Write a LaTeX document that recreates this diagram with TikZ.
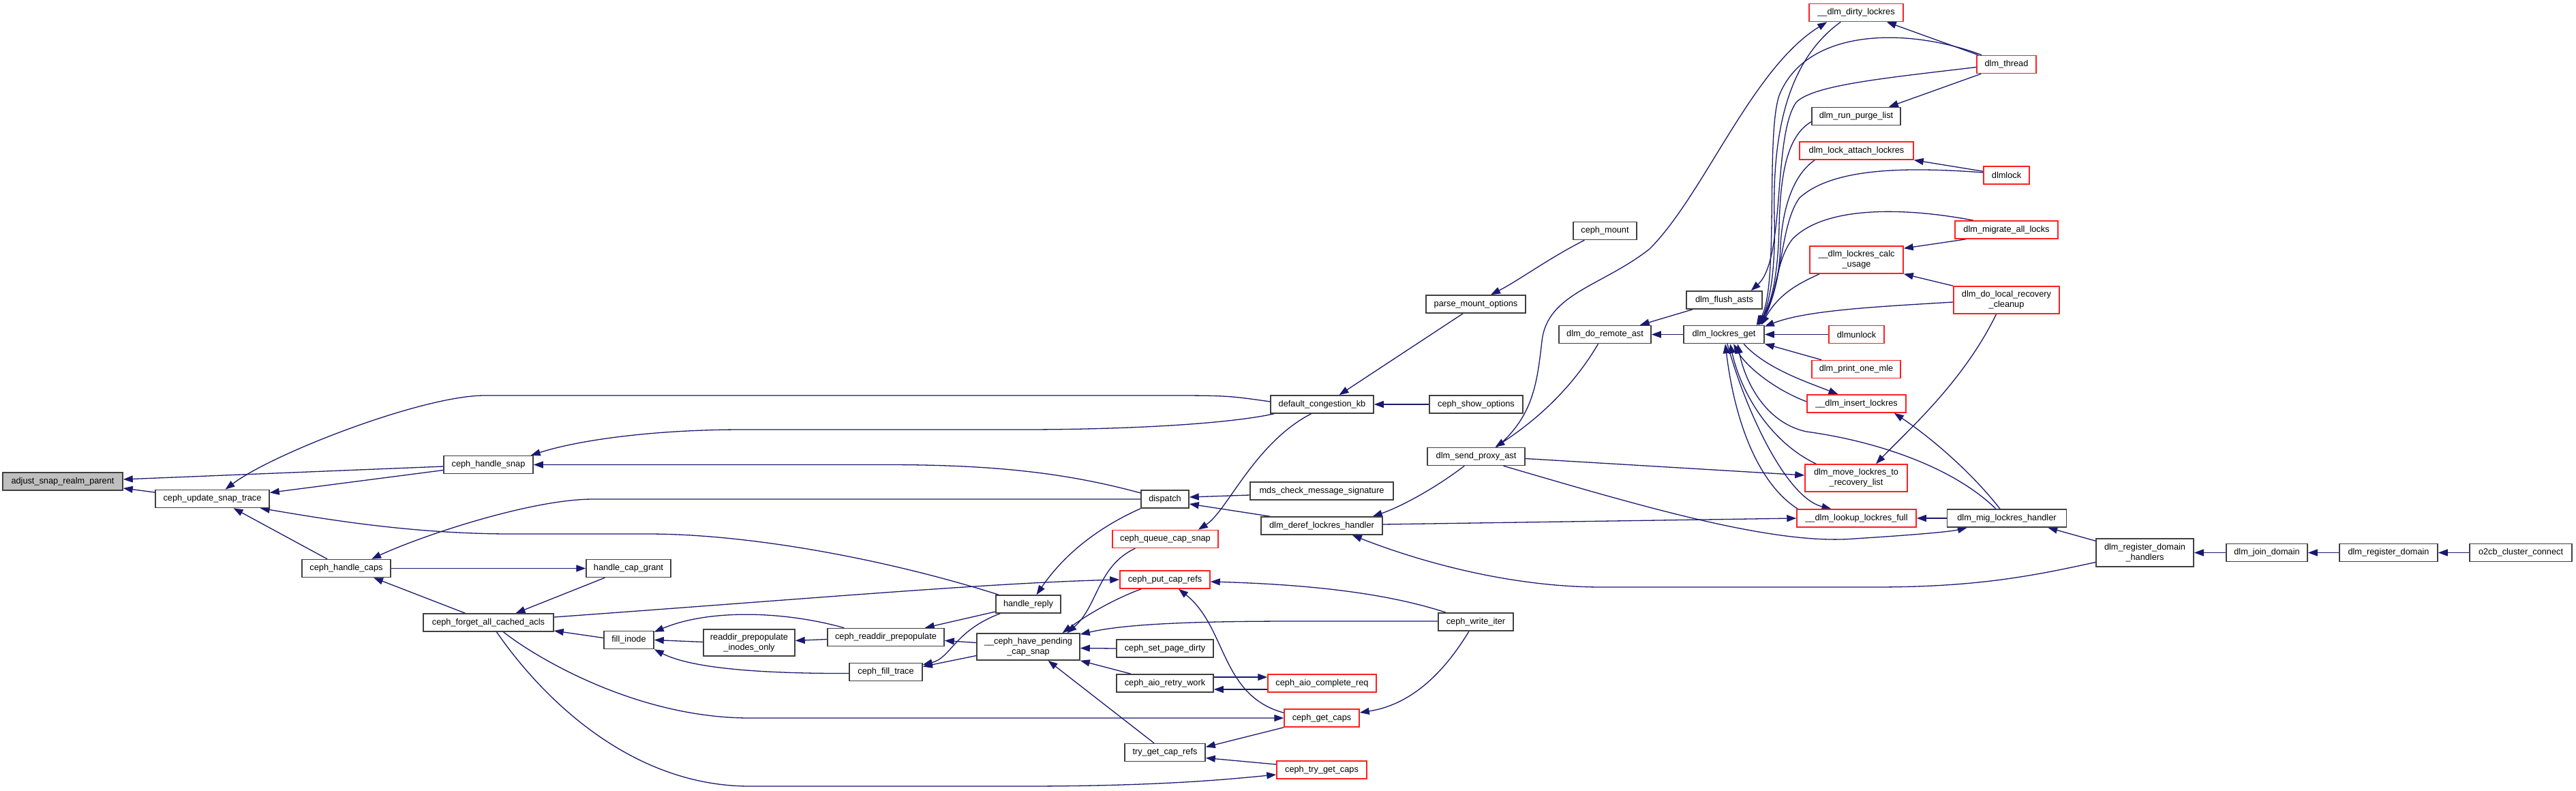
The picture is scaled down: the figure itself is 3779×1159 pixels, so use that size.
\documentclass[tikz,border=0pt]{standalone}
\usepackage{fontspec}
\setmainfont{Liberation Sans}
\usetikzlibrary{arrows.meta,calc}
\definecolor{edgec}{HTML}{191970}
\definecolor{boxc}{HTML}{404040}
\definecolor{redc}{HTML}{FF2020}
\definecolor{grayf}{HTML}{BFBFBF}
\pgfdeclarelayer{bg}
\pgfsetlayers{bg,main}
\begin{document}
\begin{tikzpicture}[x=1pt,y=-1pt,
  fn/.style={draw=boxc,line width=1.5pt,fill=white,inner sep=0pt,minimum height=26pt,font=\fontsize{12.75}{15}\selectfont,align=center},
  rfn/.style={fn,draw=redc},
  arr/.style={draw=edgec,line width=1.3pt,-{Triangle[length=14pt,width=10pt]}}]
\useasboundingbox (0,0) rectangle (3779,1159);
% nodes
\node[fn,fill=grayf,minimum width=176pt] (adj) at (92,706) {adjust\_snap\_realm\_parent};
\node[fn,minimum width=167pt] (upd) at (311.5,731.5) {ceph\_update\_snap\_trace};
\node[fn,minimum width=130pt] (hcaps) at (508,833.5) {ceph\_handle\_caps};
\node[fn,minimum width=131pt] (hsnap) at (716.5,681.5) {ceph\_handle\_snap};
\node[fn,minimum width=191pt] (forget) at (716.5,913) {ceph\_forget\_all\_cached\_acls};
\node[fn,minimum width=124pt] (grant) at (922,833.5) {handle\_cap\_grant};
\node[fn,minimum width=73pt] (fill) at (922.5,938.5) {fill\_inode};
\node[fn,minimum width=134pt,minimum height=39pt] (rpio) at (1099,942.5) {readdir\_prepopulate\\\_inodes\_only};
\node[fn,minimum width=171pt] (crp) at (1299.5,934.5) {ceph\_readdir\_prepopulate};
\node[fn,minimum width=107pt] (cft) at (1299.5,985.5) {ceph\_fill\_trace};
\node[fn,minimum width=95pt] (hreply) at (1508.5,886) {handle\_reply};
\node[fn,minimum width=151pt,minimum height=39pt] (pend) at (1508.5,948.5) {\_\_ceph\_have\_pending\\\_cap\_snap};
\node[fn,minimum width=70pt] (dispatch) at (1709,732) {dispatch};
\node[fn,minimum width=210pt] (mds) at (1939,720) {mds\_check\_message\_signature};
\node[fn,minimum width=178pt] (deref) at (1939,771) {dlm\_deref\_lockres\_handler};
\node[rfn,minimum width=155pt] (queue) at (1709.5,790.5) {ceph\_queue\_cap\_snap};
\node[rfn,minimum width=132pt] (put) at (1709,850) {ceph\_put\_cap\_refs};
\node[fn,minimum width=142pt] (spd) at (1709,951) {ceph\_set\_page\_dirty};
\node[fn,minimum width=142pt] (retry) at (1709,1002) {ceph\_aio\_retry\_work};
\node[rfn,minimum width=159pt] (acr) at (1939.5,1002) {ceph\_aio\_complete\_req};
\node[rfn,minimum width=110pt] (gcaps) at (1939,1053) {ceph\_get\_caps};
\node[fn,minimum width=118pt] (tgcr) at (1709,1103.5) {try\_get\_cap\_refs};
\node[rfn,minimum width=132pt] (tgc) at (1939,1129) {ceph\_try\_get\_caps};
\node[fn,minimum width=110pt] (cwi) at (2165,912) {ceph\_write\_iter};
\node[fn,minimum width=151pt] (dck) at (1939.5,593) {default\_congestion\_kb};
\node[fn,minimum width=146pt] (pmo) at (2165,446) {parse\_mount\_options};
\node[fn,minimum width=137pt] (cso) at (2165.5,593) {ceph\_show\_options};
\node[fn,minimum width=93pt] (cmount) at (2354.5,338.5) {ceph\_mount};
\node[fn,minimum width=143pt] (dspa) at (2165.5,669.5) {dlm\_send\_proxy\_ast};
\node[fn,minimum width=135pt] (dra) at (2354.5,490.5) {dlm\_do\_remote\_ast};
\node[fn,minimum width=111pt] (dfa) at (2529.5,440) {dlm\_flush\_asts};
\node[fn,minimum width=118pt] (dlg) at (2529,490.5) {dlm\_lockres\_get};
\node[rfn,minimum width=138pt] (dirty) at (2723,18.5) {\_\_dlm\_dirty\_lockres};
\node[fn,minimum width=130pt] (purge) at (2723,170.5) {dlm\_run\_purge\_list};
\node[rfn,minimum width=167pt] (attach) at (2723.5,221) {dlm\_lock\_attach\_lockres};
\node[rfn,minimum width=137pt,minimum height=40pt] (calc) at (2723.5,381) {\_\_dlm\_lockres\_calc\\\_usage};
\node[rfn,minimum width=81pt] (unlock) at (2723.5,490.5) {dlmunlock};
\node[rfn,minimum width=130pt] (pom) at (2723,541.5) {dlm\_print\_one\_mle};
\node[rfn,minimum width=145pt] (insert) at (2723.5,592) {\_\_dlm\_insert\_lockres};
\node[rfn,minimum width=150pt,minimum height=40pt] (move) at (2723,701) {dlm\_move\_lockres\_to\\\_recovery\_list};
\node[rfn,minimum width=175pt] (lookup) at (2723.5,760) {\_\_dlm\_lookup\_lockres\_full};
\node[rfn,minimum width=87pt] (thread) at (2943.5,94.5) {dlm\_thread};
\node[rfn,minimum width=67pt] (dlmlock) at (2943.5,257) {dlmlock};
\node[rfn,minimum width=151pt] (migrate) at (2943.5,337) {dlm\_migrate\_all\_locks};
\node[rfn,minimum width=155pt,minimum height=40pt] (dlrc) at (2943.5,440) {dlm\_do\_local\_recovery\\\_cleanup};
\node[fn,minimum width=175pt] (mig) at (2944,760) {dlm\_mig\_lockres\_handler};
\node[fn,minimum width=143pt,minimum height=41pt] (rdh) at (3146.5,810.5) {dlm\_register\_domain\\\_handlers};
\node[fn,minimum width=119pt] (join) at (3325.5,810.5) {dlm\_join\_domain};
\node[fn,minimum width=144pt] (rd) at (3504,810.5) {dlm\_register\_domain};
\node[fn,minimum width=150pt] (o2cb) at (3698,810.5) {o2cb\_cluster\_connect};
\begin{pgfonlayer}{bg}
\fill[white] (0,0) rectangle (3779,1159);
% ceph part
\draw[arr] ($(hsnap.west)+(0,2.5)$) -- ($(adj.east)+(0,-3)$);
\draw[arr] ($(hsnap.west)+(0,8)$) -- ($(upd.east)+(0,-9)$);
\draw[arr] ($(upd.west)+(0,-9.5)$) -- ($(adj.east)+(0,10)$);
\draw[arr] ($(dck.west)+(0,-4)$) .. controls (1800,580) .. (1700,580) -- (711,580) .. controls (620,580) and (400,665) .. ($(upd.north)+(19,0)$);
\draw[arr] ($(dck.south west)+(6,0)$) .. controls (1800,622) and (1650,630) .. (1500,630) -- (1090,630) .. controls (960,630) and (850,645) .. ($(hsnap.north east)+(-4,0)$);
\draw[arr] ($(dispatch.west)+(0,-9)$) .. controls (1560,692) and (1450,681.5) .. (1300,681.5) -- (hsnap.east);
\draw[arr] (dispatch.west) -- (870,732) .. controls (780,732) and (620,785) .. ($(hcaps.north)+(37,0)$);
\draw[arr] ($(hreply.north west)+(5,0)$) .. controls (1300,820) and (1100,783) .. (950,783) -- (750,783) .. controls (600,783) and (470,760) .. ($(upd.south east)+(-14,0)$);
\draw[arr] ($(hcaps.north)+(-28,0)$) -- ($(upd.south)+(31,0)$);
\draw[arr] (hcaps.east) -- (grant.west);
\draw[arr] ($(grant.south west)+(28,0)$) -- ($(forget.north)+(40,0)$);
\draw[arr] ($(forget.north)+(-34,0)$) -- ($(hcaps.south)+(40,0)$);
\draw[arr] ($(forget.east)+(0,-8)$) .. controls (1200,877) and (1450,855) .. (put.west);
\draw[arr] ($(fill.west)+(0,-3)$) -- ($(forget.east)+(0,12)$);
\draw[arr] ($(forget.south)+(22,0)$) .. controls (780,960) and (930,1053) .. (1100,1053) -- (gcaps.west);
\draw[arr] ($(forget.south)+(12,0)$) .. controls (800,1030) and (930,1153) .. (1100,1153) -- (1500,1153) .. controls (1700,1153) and (1800,1143) .. ($(tgc.west)+(0,7)$);
\draw[arr] ($(crp.north west)+(25,0)$) .. controls (1150,896) and (1040,893) .. ($(fill.north east)+(0,2)$);
\draw[arr] ($(rpio.west)+(0,-1)$) -- (fill.east);
\draw[arr] ($(cft.west)+(0,2)$) .. controls (1100,988) and (1010,978) .. (fill.south east);
\draw[arr] ($(crp.west)+(0,3)$) -- ($(rpio.east)+(0,-3)$);
\draw[arr] ($(pend.west)+(0,-6)$) -- ($(crp.east)+(0,5)$);
\draw[arr] ($(pend.west)+(0,13)$) -- ($(cft.east)+(0,-8)$);
\draw[arr] ($(hreply.west)+(0,11)$) -- ($(crp.north east)+(-29,0)$);
\draw[arr] ($(hreply.south west)+(7,0)$) .. controls (1400,925) and (1395,965) .. ($(cft.north east)+(0,3)$);
\draw[arr] (dispatch.south west) .. controls (1630,765) and (1570,800) .. ($(hreply.north)+(12,0)$);
\draw[arr] ($(mds.west)+(0,6)$) -- ($(dispatch.east)+(0,-3)$);
\draw[arr] ($(deref.north west)+(14,0)$) -- ($(dispatch.east)+(0,7)$);
\draw[arr] ($(dspa.south west)+(55,0)$) .. controls (2100,720) and (2050,745) .. ($(deref.north east)+(-15,0)$);
\draw[arr] ($(deref.east)+(0,-2)$) -- (lookup.west);
\draw[arr] ($(rdh.west)+(0,14)$) .. controls (2980,845) and (2900,861) .. (2750,861) -- (2350,861) .. controls (2200,861) and (2060,815) .. ($(deref.south east)+(-45,0)$);
\draw[arr] ($(dck.south)+(-16,0)$) .. controls (1840,650) and (1800,750) .. ($(queue.north east)+(-30,0)$);
\draw[arr] ($(pmo.south west)+(55,0)$) -- ($(dck.north)+(25,0)$);
\draw[arr] (cso.west) -- (dck.east);
\draw[arr] ($(cmount.south west)+(17,0)$) .. controls (2270,380) and (2230,410) .. ($(pmo.north)+(22,0)$);
\draw[arr] ($(queue.south west)+(34,0)$) .. controls (1610,830) and (1610,890) .. ($(pend.north)+(57,0)$);
\draw[arr] ($(put.south west)+(32,0)$) .. controls (1630,880) and (1590,905) .. ($(pend.north)+(50,0)$);
\draw[arr] ($(cwi.west)+(0,-1)$) -- (1900,911) .. controls (1750,911) and (1650,915) .. ($(pend.north east)+(0,2)$);
\draw[arr] (spd.west) -- ($(pend.east)+(0,2)$);
\draw[arr] ($(retry.north west)+(22,0)$) -- (pend.south east);
\draw[arr] ($(tgcr.north)+(-16,0)$) -- ($(pend.south)+(29,0)$);
\draw[arr] ($(retry.east)+(0,-9)$) -- ($(acr.west)+(0,-9)$);
\draw[arr] ($(acr.west)+(0,9)$) -- ($(retry.east)+(0,9)$);
\draw[arr] ($(gcaps.north west)+(0,6)$) .. controls (1790,1020) and (1800,920) .. ($(put.south)+(20,0)$);
\draw[arr] ($(cwi.north west)+(12,0)$) .. controls (2050,875) and (1950,858) .. ($(put.east)+(0,3)$);
\draw[arr] ($(cwi.south)+(-10,0)$) .. controls (2110,1000) and (2060,1035) .. ($(gcaps.east)+(0,-8)$);
\draw[arr] (gcaps.south west) -- ($(tgcr.east)+(0,-8)$);
\draw[arr] ($(tgc.west)+(0,-8)$) -- ($(tgcr.east)+(0,8)$);
% dlm part
\draw[arr] ($(dspa.north)+(30,0)$) .. controls (2250,610) and (2255,560) .. (2262,500) .. controls (2270,430) and (2350,420) .. (2420,365) .. controls (2500,285) and (2570,100) .. ($(dirty.south west)+(27,0)$);
\draw[arr] ($(dra.south)+(-10,0)$) .. controls (2300,580) and (2240,625) .. ($(dspa.north)+(28,0)$);
\draw[arr] ($(dspa.east)+(0,3)$) -- ($(move.west)+(0,-4)$);
\draw[arr] ($(dspa.south)+(40,0)$) .. controls (2400,740) and (2600,800) .. (2720,790) .. controls (2800,785) and (2860,780) .. ($(mig.south west)+(30,0)$);
\draw[arr] ($(dfa.south west)+(10,0)$) -- ($(dra.north east)+(-17,0)$);
\draw[arr] (dlg.west) -- (dra.east);
\draw[arr] ($(thread.north west)+(3,0)$) -- ($(dirty.south east)+(-25,0)$);
\draw[arr] ($(thread.north west)+(8,0)$) .. controls (2800,40) and (2650,40) .. (2610,140) .. controls (2590,200) and (2610,420) .. ($(dlg.north east)+(-12,0)$);
\draw[arr] ($(thread.west)+(0,4)$) .. controls (2760,115) and (2660,125) .. (2635,150) .. controls (2600,200) and (2620,380) .. ($(dfa.north east)+(-17,0)$);
\draw[arr] ($(thread.south west)+(7,0)$) -- ($(purge.north east)+(-18,0)$);
\draw[arr] ($(dirty.south west)+(47,0)$) .. controls (2620,90) and (2600,200) .. (2603,320) .. controls (2605,400) and (2595,445) .. ($(dlg.north east)+(-8,0)$);
\draw[arr] ($(purge.west)+(0,8)$) .. controls (2620,200) and (2612,260) .. (2610,330) .. controls (2608,420) and (2595,450) .. ($(dlg.north east)+(-10,0)$);
\draw[arr] ($(attach.south west)+(23,0)$) .. controls (2625,260) and (2614,320) .. (2612,360) .. controls (2610,420) and (2595,450) .. ($(dlg.north east)+(-10,0)$);
\draw[arr] ($(dlmlock.west)+(0,-4)$) .. controls (2800,245) and (2690,245) .. (2640,290) .. controls (2610,330) and (2615,430) .. ($(dlg.north east)+(-12,0)$);
\draw[arr] ($(migrate.north west)+(28,0)$) .. controls (2800,305) and (2680,300) .. (2630,350) .. controls (2605,380) and (2605,440) .. ($(dlg.north east)+(-8,0)$);
\draw[arr] ($(calc.south west)+(15,0)$) .. controls (2640,415) and (2610,430) .. ($(dlg.north east)+(-5,0)$);
\draw[arr] ($(dlrc.west)+(0,3)$) .. controls (2750,450) and (2650,455) .. ($(dlg.north east)+(0,2)$);
\draw[arr] (unlock.west) -- (dlg.east);
\draw[arr] ($(pom.north west)+(15,0)$) -- (dlg.south east);
\draw[arr] ($(dlg.south)+(29,0)$) .. controls (2590,540) and (2650,560) .. ($(insert.north)+(-27,0)$);
\draw[arr] ($(insert.west)+(0,-3)$) .. controls (2600,570) and (2560,535) .. ($(dlg.south)+(14,0)$);
\draw[arr] ($(move.north west)+(17,0)$) .. controls (2600,650) and (2555,580) .. ($(dlg.south)+(9,0)$);
\draw[arr] ($(lookup.north west)+(2,0)$) .. controls (2580,710) and (2545,620) .. ($(dlg.south)+(2,0)$);
\draw[arr] ($(dlg.south)+(5,0)$) .. controls (2560,600) and (2620,730) .. ($(lookup.north)+(-37,0)$);
\draw[arr] ($(mig.north)+(-16,0)$) .. controls (2860,680) and (2740,645) .. (2650,633) .. controls (2590,620) and (2560,560) .. ($(dlg.south)+(20,0)$);
\draw[arr] ($(mig.north)+(-10,0)$) .. controls (2890,690) and (2830,640) .. ($(insert.south east)+(-18,0)$);
\draw[arr] (mig.west) -- (lookup.east);
\draw[arr] ($(dlrc.south)+(-15,0)$) .. controls (2880,560) and (2800,630) .. ($(move.north)+(29,0)$);
\draw[arr] (dlrc.north west) -- (calc.south east);
\draw[arr] ($(migrate.south west)+(17,0)$) -- ($(calc.north east)+(0,4)$);
\draw[arr] ($(dlmlock.north west)+(0,8)$) -- (attach.south east);
\draw[arr] ($(rdh.north west)+(0,4)$) -- ($(mig.south east)+(-28,0)$);
\draw[arr] (join.west) -- (rdh.east);
\draw[arr] (rd.west) -- (join.east);
\draw[arr] (o2cb.west) -- (rd.east);
\end{pgfonlayer}
\end{tikzpicture}
\end{document}
